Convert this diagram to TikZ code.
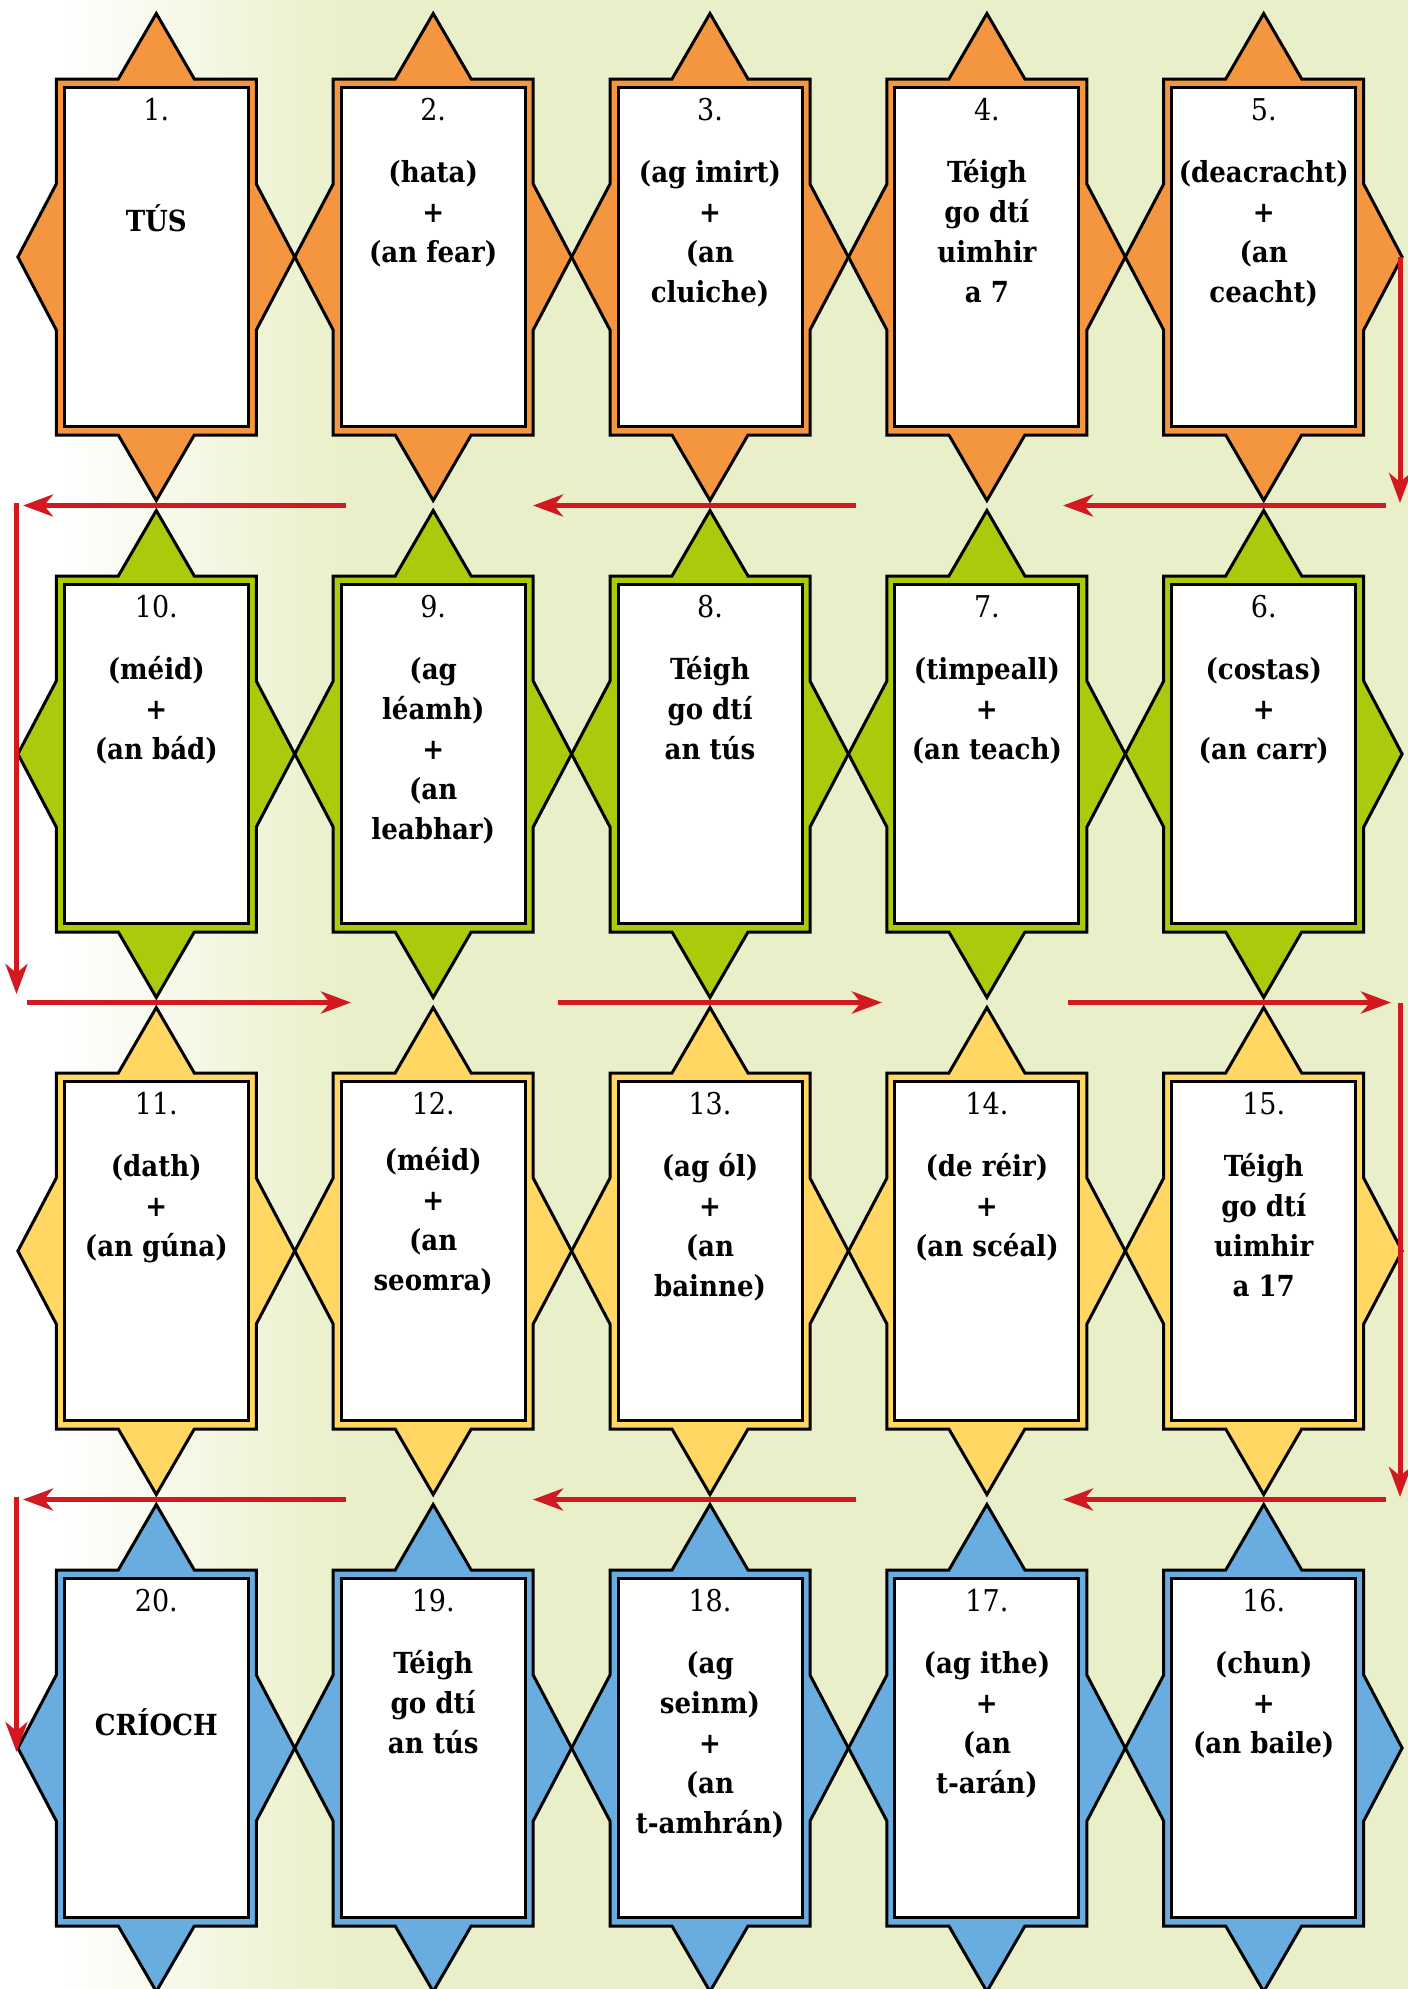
\documentclass[tikz,border=0pt]{standalone}
\usepackage{fontspec}
\usetikzlibrary{arrows.meta}
\newfontfamily\bodyfont{DejaVu Serif Condensed}
\definecolor{torange}{HTML}{F4963F}
\definecolor{tgreen}{HTML}{ADC90C}
\definecolor{tyellow}{HTML}{FFD762}
\definecolor{tblue}{HTML}{69ACDF}
\definecolor{arrowred}{HTML}{D2191F}
\definecolor{bgcol}{HTML}{E9F0C9}
\tikzset{
  tilepoly/.style={draw=black, line width=3pt, line join=miter},
  tileinner/.style={draw=black, fill=white, line width=3pt},
  numtext/.style={inner sep=0pt, anchor=base, font=\bodyfont\fontsize{30}{36}\selectfont},
  bodytext/.style={inner sep=0pt, anchor=north, align=center, font=\bodyfont\bfseries\fontsize{29}{40}\selectfont},
  redarrow/.style={draw=arrowred, line width=5pt, -{Stealth[length=30pt,width=22pt,inset=9pt]}}
}
% #1 name, #2 x, #3 y, #4 colour, #5 number, #6 text, #7 baseline offset of first line
\newcommand\drawtile[7]{%
\begin{scope}[shift={(#2,#3)}]
\filldraw[tilepoly, fill=#4] (-100,-178) -- (-38,-178) -- (0,-243.5) -- (38,-178) -- (100,-178) -- (100,-73) -- (138.4,0) -- (100,73) -- (100,178) -- (38,178) -- (0,243.5) -- (-38,178) -- (-100,178) -- (-100,73) -- (-138.4,0) -- (-100,-73) -- cycle;
\draw[tileinner] (-92,-169.5) rectangle (92,169.5);
\node[numtext] (n#1) at (0,-137) {#5.};
\node[bodytext] (t#1) at (0,#7-30) {\rule{0pt}{30pt}#6};
\end{scope}}
\begin{document}
\begin{tikzpicture}[x=1pt, y=-1pt]
\useasboundingbox (0,0) rectangle (1408,1989);
\clip (0,0) rectangle (1408,1989);
\fill[bgcol] (0,0) rectangle (1408,1989);
\shade[left color=white, right color=bgcol] (60,0) rectangle (345,1989);
\fill[white] (0,0) rectangle (60.5,1989);
% row 1
\drawtile{1}{156.3}{257}{torange}{1}{TÚS}{-26}
\drawtile{2}{433.2}{257}{torange}{2}{(hata)\\+\\(an fear)}{-75}
\drawtile{3}{710.0}{257}{torange}{3}{(ag imirt)\\+\\(an\\cluiche)}{-75}
\drawtile{4}{986.9}{257}{torange}{4}{Téigh\\go dtí\\uimhir\\a 7}{-75}
\drawtile{5}{1263.7}{257}{torange}{5}{(deacracht)\\+\\(an\\ceacht)}{-75}
% row 2
\drawtile{10}{156.3}{754}{tgreen}{10}{(méid)\\+\\(an bád)}{-75}
\drawtile{9}{433.2}{754}{tgreen}{9}{(ag\\léamh)\\+\\(an\\leabhar)}{-75}
\drawtile{8}{710.0}{754}{tgreen}{8}{Téigh\\go dtí\\an tús}{-75}
\drawtile{7}{986.9}{754}{tgreen}{7}{(timpeall)\\+\\(an teach)}{-75}
\drawtile{6}{1263.7}{754}{tgreen}{6}{(costas)\\+\\(an carr)}{-75}
% row 3
\drawtile{11}{156.3}{1251}{tyellow}{11}{(dath)\\+\\(an gúna)}{-75}
\drawtile{12}{433.2}{1251}{tyellow}{12}{(méid)\\+\\(an\\seomra)}{-81}
\drawtile{13}{710.0}{1251}{tyellow}{13}{(ag ól)\\+\\(an\\bainne)}{-75}
\drawtile{14}{986.9}{1251}{tyellow}{14}{(de réir)\\+\\(an scéal)}{-75}
\drawtile{15}{1263.7}{1251}{tyellow}{15}{Téigh\\go dtí\\uimhir\\a 17}{-75}
% row 4
\drawtile{20}{156.3}{1748}{tblue}{20}{CRÍOCH}{-13}
\drawtile{19}{433.2}{1748}{tblue}{19}{Téigh\\go dtí\\an tús}{-75}
\drawtile{18}{710.0}{1748}{tblue}{18}{(ag\\seinm)\\+\\(an\\t-amhrán)}{-75}
\drawtile{17}{986.9}{1748}{tblue}{17}{(ag ithe)\\+\\(an\\t-arán)}{-75}
\drawtile{16}{1263.7}{1748}{tblue}{16}{(chun)\\+\\(an baile)}{-75}
% arrows between rows 1 and 2 (leftward)
\coordinate (v1s) at (1400,257);   \coordinate (v1e) at (1400,503);
\coordinate (a1s) at (1386,505.5); \coordinate (a1e) at (1063,505.5);
\coordinate (a2s) at (856,505.5);  \coordinate (a2e) at (533,505.5);
\coordinate (a3s) at (346,505.5);  \coordinate (a3e) at (23,505.5);
\coordinate (v2s) at (16.5,503);   \coordinate (v2e) at (16.5,994);
\draw[redarrow] (v1s) -- (v1e);
\draw[redarrow] (a1s) -- (a1e);
\draw[redarrow] (a2s) -- (a2e);
\draw[redarrow] (a3s) -- (a3e);
\draw[redarrow] (v2s) -- (v2e);
% rows 2 and 3 (rightward)
\coordinate (b1s) at (27,1002.5);   \coordinate (b1e) at (351,1002.5);
\coordinate (b2s) at (558,1002.5);  \coordinate (b2e) at (882,1002.5);
\coordinate (b3s) at (1068,1002.5); \coordinate (b3e) at (1391,1002.5);
\coordinate (v3s) at (1400,1002.5); \coordinate (v3e) at (1400,1497);
\draw[redarrow] (b1s) -- (b1e);
\draw[redarrow] (b2s) -- (b2e);
\draw[redarrow] (b3s) -- (b3e);
\draw[redarrow] (v3s) -- (v3e);
% rows 3 and 4 (leftward)
\coordinate (c1s) at (1386,1499.5); \coordinate (c1e) at (1063,1499.5);
\coordinate (c2s) at (856,1499.5);  \coordinate (c2e) at (533,1499.5);
\coordinate (c3s) at (346,1499.5);  \coordinate (c3e) at (23,1499.5);
\coordinate (v4s) at (16.5,1497);   \coordinate (v4e) at (16.5,1752);
\draw[redarrow] (c1s) -- (c1e);
\draw[redarrow] (c2s) -- (c2e);
\draw[redarrow] (c3s) -- (c3e);
\draw[redarrow] (v4s) -- (v4e);
\end{tikzpicture}
\end{document}
